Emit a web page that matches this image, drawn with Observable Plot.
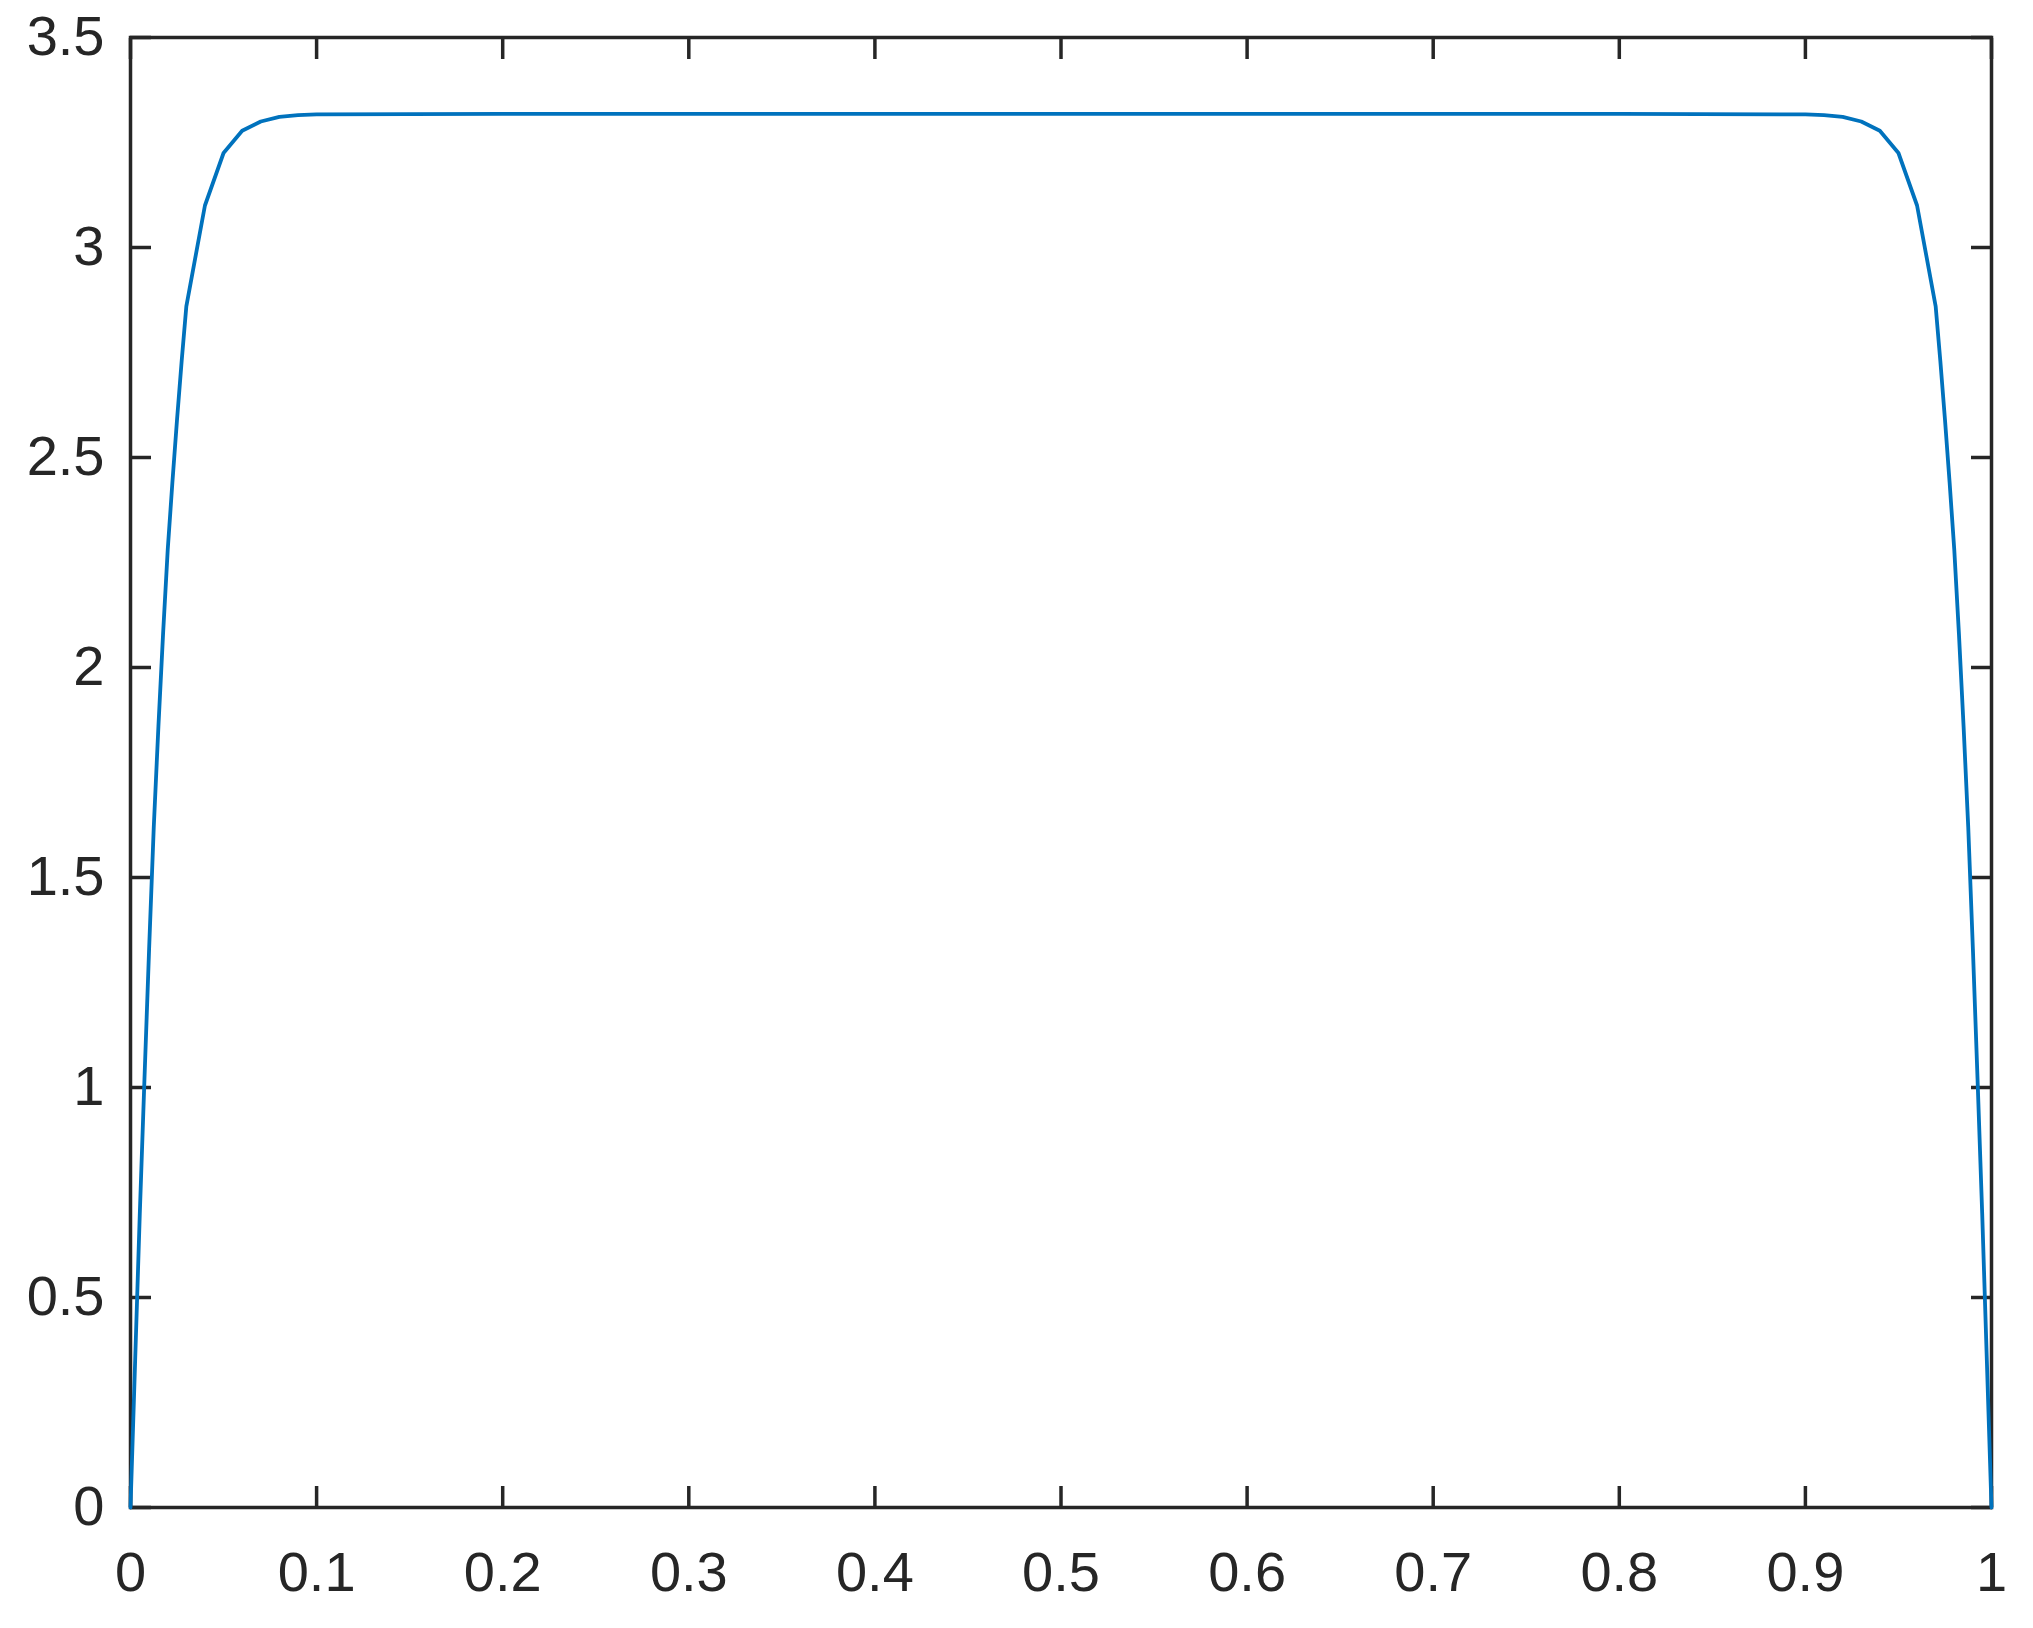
<!DOCTYPE html>
<html>
<head>
<meta charset="utf-8">
<script src="https://cdn.jsdelivr.net/npm/d3@7"></script>
<script src="https://cdn.jsdelivr.net/npm/@observablehq/plot@0.6"></script>
<style>
  html, body { margin: 0; padding: 0; background: #ffffff; }
  #chart { width: 2033px; height: 1628px; }
</style>
</head>
<body>
<div id="chart"></div>
<script>
// Curve samples
const xs = [0, 0.0025, 0.005, 0.0075, 0.01, 0.0125, 0.015, 0.0175, 0.02, 0.0225, 0.025, 0.0275, 0.03,
  0.04, 0.05, 0.06, 0.07, 0.08, 0.09, 0.1, 0.2, 0.3, 0.4, 0.5, 0.6, 0.7, 0.8, 0.9,
  0.91, 0.92, 0.93, 0.94, 0.95, 0.96, 0.97, 0.9725, 0.975, 0.9775, 0.98, 0.9825, 0.985, 0.9875,
  0.99, 0.9925, 0.995, 0.9975, 1];
const ys = [0, 0.35, 0.70, 1.02, 1.33, 1.62, 1.86, 2.08, 2.28, 2.44, 2.59, 2.73, 2.86,
  3.10, 3.225, 3.278, 3.300, 3.311, 3.315, 3.317, 3.318, 3.318, 3.318, 3.318, 3.318, 3.318, 3.318, 3.317,
  3.315, 3.311, 3.300, 3.278, 3.225, 3.10, 2.86, 2.73, 2.59, 2.44, 2.28, 2.08, 1.86, 1.62,
  1.33, 1.02, 0.70, 0.35, 0];

const xTicks = [0, 0.1, 0.2, 0.3, 0.4, 0.5, 0.6, 0.7, 0.8, 0.9, 1];
const xTickLabels = ["0", "0.1", "0.2", "0.3", "0.4", "0.5", "0.6", "0.7", "0.8", "0.9", "1"];
const yTicks = [0, 0.5, 1, 1.5, 2, 2.5, 3, 3.5];
const yTickLabels = ["0", "0.5", "1", "1.5", "2", "2.5", "3", "3.5"];

const data = xs.map((x, i) => ({x, y: ys[i]}));
const xLab = new Map(xTicks.map((t, i) => [t, xTickLabels[i]]));
const yLab = new Map(yTicks.map((t, i) => [t, yTickLabels[i]]));

const ink = "#262626";
const fontSize = 56;

const chart = Plot.plot({
  width: 2033,
  height: 1628,
  marginLeft: 130,
  marginRight: 42,
  marginTop: 37,
  marginBottom: 121,
  style: {background: "#ffffff", color: ink, fontFamily: "'Liberation Sans', Arial, Helvetica, sans-serif", fontSize: fontSize + "px"},
  x: {domain: [0, 1]},
  y: {domain: [0, 3.5]},
  marks: [
    Plot.axisX(xTicks, {anchor: "bottom", tickSize: -21, tickPadding: 65, strokeWidth: 3.5, stroke: ink, fill: ink,
      fontSize, tickFormat: d => xLab.get(d), label: null}),
    Plot.axisX(xTicks, {anchor: "top", tickSize: -21, strokeWidth: 3.5, stroke: ink,
      tickFormat: () => "", label: null}),
    Plot.axisY(yTicks, {anchor: "left", tickSize: -21, tickPadding: 47, strokeWidth: 3.5, stroke: ink, fill: ink,
      fontSize, tickFormat: d => yLab.get(d), label: null}),
    Plot.axisY(yTicks, {anchor: "right", tickSize: -21, strokeWidth: 3.5, stroke: ink,
      tickFormat: () => "", label: null}),
    Plot.frame({stroke: ink, strokeWidth: 3.5}),
    Plot.line(data, {x: "x", y: "y", stroke: "#0072BD", strokeWidth: 3.8, curve: "linear"})
  ]
});
document.getElementById("chart").appendChild(chart);
</script>
</body>
</html>
